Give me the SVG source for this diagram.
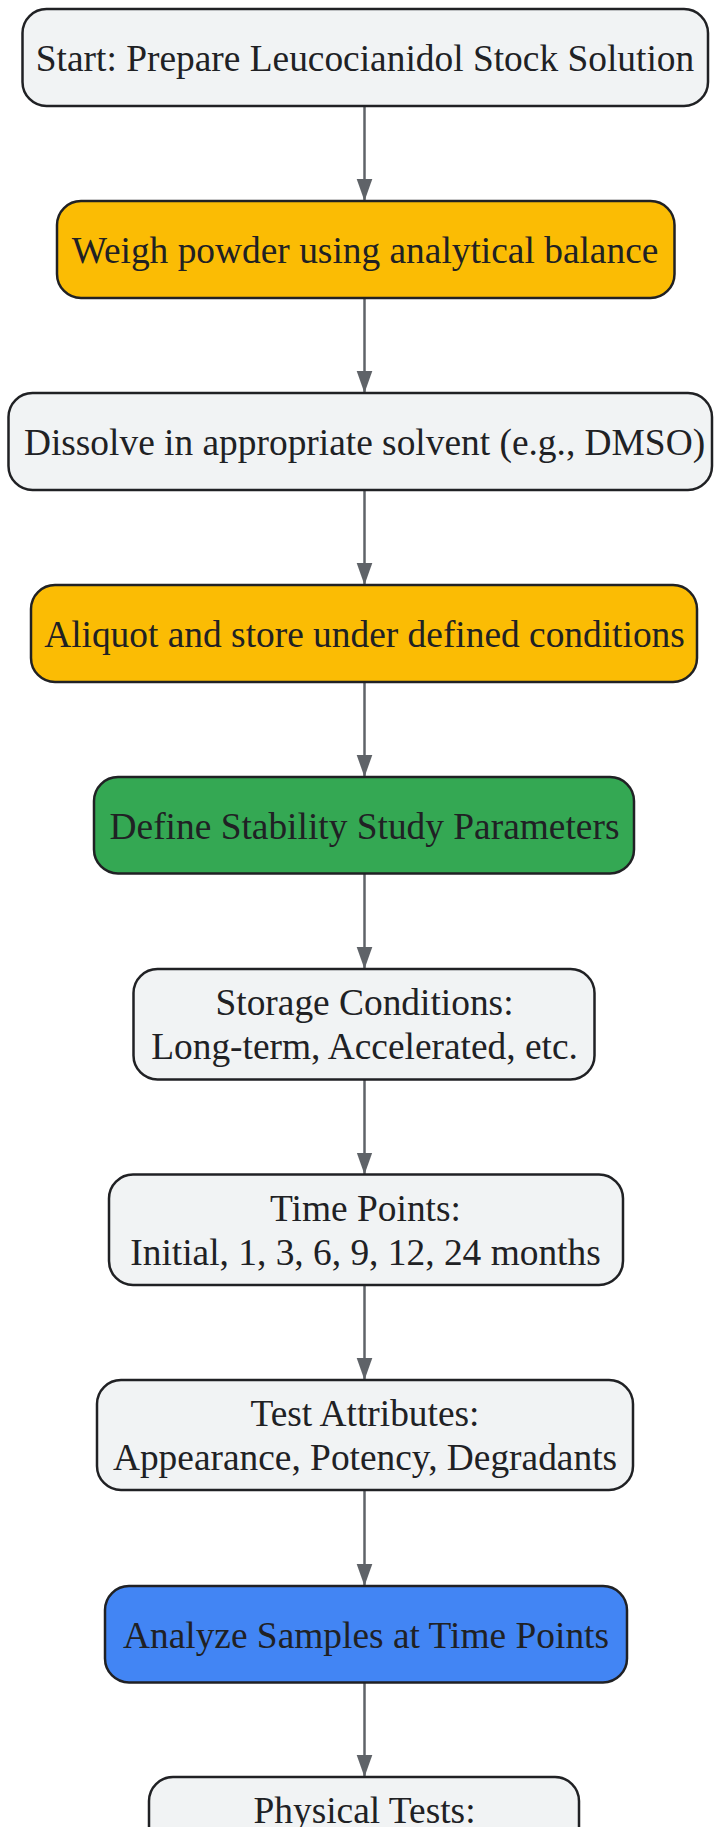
<svg xmlns="http://www.w3.org/2000/svg" width="714" height="1827" viewBox="0 0 714 1827">
<style>
.n rect{stroke:#202124;stroke-width:2.5}
.g{fill:#f1f3f4}
.o{fill:#fbbc04}
.gr{fill:#34a853}
.b{fill:#4285f4}
text{font-family:"Liberation Serif","Times New Roman",serif;font-size:37.4px;fill:#202124;text-anchor:middle}
.e line{stroke:#5f6368;stroke-width:2.5;marker-end:url(#ah)}
</style>
<defs>
<marker id="ah" markerUnits="userSpaceOnUse" markerWidth="22" markerHeight="22" refX="31" refY="11" viewBox="0 0 31 22" orient="auto">
<path d="M0,0 L31,11 L0,22 z" fill="#5f6368"/>
</marker>
</defs>
<rect width="714" height="1827" fill="#ffffff"/>
<g class="e" id="edges">
<line x1="364.5" y1="106" x2="364.5" y2="201"/>
<line x1="364.5" y1="298" x2="364.5" y2="393"/>
<line x1="364.5" y1="490" x2="364.5" y2="585"/>
<line x1="364.5" y1="682" x2="364.5" y2="777"/>
<line x1="364.5" y1="873.5" x2="364.5" y2="969"/>
<line x1="364.5" y1="1079.5" x2="364.5" y2="1174.5"/>
<line x1="364.5" y1="1285" x2="364.5" y2="1380"/>
<line x1="364.5" y1="1490" x2="364.5" y2="1586"/>
<line x1="364.5" y1="1682.5" x2="364.5" y2="1777"/>
</g>
<g class="n" id="n1"><rect class="g" x="22.5" y="9" width="685.5" height="97" rx="24"/><text x="365" y="70.5">Start: Prepare Leucocianidol Stock Solution</text></g>
<g class="n" id="n2"><rect class="o" x="57" y="201" width="617.5" height="97" rx="24"/><text x="365" y="262.5">Weigh powder using analytical balance</text></g>
<g class="n" id="n3"><rect class="g" x="8.5" y="393" width="703.5" height="97" rx="24"/><text x="364.5" y="454.5">Dissolve in appropriate solvent (e.g., DMSO)</text></g>
<g class="n" id="n4"><rect class="o" x="31" y="585" width="666" height="97" rx="24"/><text x="364.5" y="646.5">Aliquot and store under defined conditions</text></g>
<g class="n" id="n5"><rect class="gr" x="94" y="777" width="540" height="96.5" rx="24"/><text x="364.5" y="838.5">Define Stability Study Parameters</text></g>
<g class="n" id="n6"><rect class="g" x="133.5" y="969" width="461" height="110.5" rx="24"/><text x="364.5" y="1015">Storage Conditions:</text><text x="364.5" y="1059">Long-term, Accelerated, etc.</text></g>
<g class="n" id="n7"><rect class="g" x="109" y="1174.5" width="514" height="110.5" rx="24"/><text x="365.5" y="1220.5">Time Points:</text><text x="365.5" y="1264.5">Initial, 1, 3, 6, 9, 12, 24 months</text></g>
<g class="n" id="n8"><rect class="g" x="97" y="1380" width="536" height="110" rx="24"/><text x="365" y="1426">Test Attributes:</text><text x="365" y="1470">Appearance, Potency, Degradants</text></g>
<g class="n" id="n9"><rect class="b" x="105" y="1586" width="522" height="96.5" rx="24"/><text x="366" y="1647.5">Analyze Samples at Time Points</text></g>
<g class="n" id="n10"><rect class="g" x="149" y="1777" width="430" height="110" rx="24"/><text x="364.5" y="1823">Physical Tests:</text></g>
</svg>
